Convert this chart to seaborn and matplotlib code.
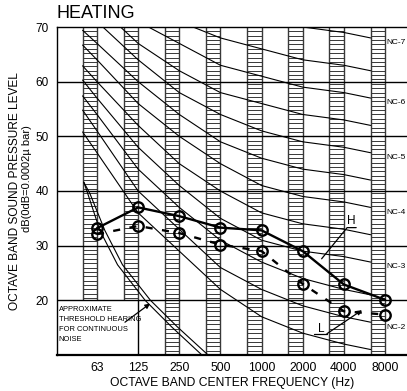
import numpy as np
import pandas as pd
import matplotlib
matplotlib.use("Agg")
import matplotlib.pyplot as plt
import seaborn as sns

sns.set_style("white")
plt.rcParams['font.family'] = ['Liberation Sans', 'DejaVu Sans']
plt.rcParams['text.color'] = 'black'
plt.rcParams['axes.labelcolor'] = 'black'
plt.rcParams['xtick.color'] = 'black'
plt.rcParams['ytick.color'] = 'black'

# ---------------- data ----------------
freq_labels = ["63", "125", "250", "500", "1000", "2000", "4000", "8000"]
h_levels = [33.2, 37.0, 35.4, 33.3, 32.8, 29.0, 22.9, 20.1]
l_levels = [32.1, 33.6, 32.3, 30.2, 29.0, 23.0, 18.0, 17.4]

nc_names = ["NC-15", "NC-20", "NC-25", "NC-30", "NC-35", "NC-40",
            "NC-45", "NC-50", "NC-55", "NC-60", "NC-65", "NC-70"]
# level at left edge of 63 Hz band, then 63 ... 8000 Hz
nc_start = [50.8, 54.8, 57.4, 60.3, 62.9, 66.7, 69.4, 73.4, 76.4, 79.1, 81.7, 84.4]
nc_levels = [
    [47, 36, 29, 22, 17, 14, 12, 11],
    [51, 40, 33, 26, 22, 19, 17, 16],
    [54, 44, 37, 31, 27, 24, 22, 21],
    [57, 48, 41, 35, 31, 29, 28, 27],
    [60, 52, 45, 40, 36, 34, 33, 32],
    [64, 56, 50, 45, 41, 39, 38, 37],
    [67, 60, 54, 49, 46, 44, 43, 42],
    [71, 64, 58, 54, 51, 49, 48, 47],
    [74, 67, 62, 58, 56, 54, 53, 52],
    [77, 71, 67, 63, 61, 59, 58, 57],
    [80, 75, 71, 68, 66, 64, 63, 62],
    [83, 79, 75, 72, 71, 70, 69, 68],
]
nc_labels = ["NC-2", "NC-3", "NC-4", "NC-5", "NC-6", "NC-7"]
nc_label_curves = ["NC-20", "NC-30", "NC-40", "NC-50", "NC-60", "NC-70"]

# threshold of hearing (double line)
thr1_x = [-0.32, -0.25, 0.07, 0.50, 1.17, 1.82, 2.55]
thr1_y = [41.6, 40.1, 32.8, 26.5, 20.0, 15.1, 10.0]
thr2_x = [-0.32, -0.17, 0.19, 0.62, 1.30, 1.96, 2.70]
thr2_y = [41.6, 39.5, 32.8, 26.5, 20.0, 15.1, 10.0]

yticks = [20, 30, 40, 50, 60, 70]

# ---------------- figure ----------------
W, H = 407, 391
fig = plt.figure(figsize=(W / 100, H / 100), dpi=100)
ax = fig.add_axes([57 / W, (H - 355) / H, (W - 57) / W, (355 - 27) / H])

xpos = np.arange(len(freq_labels))
colw = 0.35
ax.set_xlim(-0.972, 7.535)
ax.set_ylim(10, 70)

# hatched columns
hatch_c = "#383838"
for i in xpos:
    ybot = 20 if i < 2 else 10
    ax.vlines([i - colw, i], ybot, 70, color=hatch_c, lw=1.0, zorder=1)
    hy = np.arange(70, ybot, -0.8)
    ax.hlines(hy, i - colw, i, color=hatch_c, lw=0.7, zorder=1)

# horizontal grid
ax.hlines([20, 30, 40, 50, 60], -0.972, 7.535, color="black", lw=1.0, zorder=2)
# threshold box edge
ax.vlines([1], 10, 20, color="black", lw=1.0, zorder=2)

# NC curves (the 8000 Hz point sits at the left edge of its band column)
rows = []
for name, s, lv in zip(nc_names, nc_start, nc_levels):
    rows.append((name, -colw, s))
    for x, v in zip(xpos, lv):
        rows.append((name, x if x < 7 else x - colw, v))
nc_df = pd.DataFrame(rows, columns=["curve", "x", "level"])
sns.lineplot(data=nc_df, x="x", y="level", units="curve", estimator=None,
             color="black", lw=0.8, sort=False, ax=ax, zorder=3)

for lab, cname in zip(nc_labels, nc_label_curves):
    end = nc_levels[nc_names.index(cname)][-1]
    ax.text(7.04, end - 0.9, lab, fontsize=6.0, va="center", ha="left")

# threshold lines
ax.plot(thr1_x, thr1_y, color="black", lw=0.8, zorder=3)
ax.plot(thr2_x, thr2_y, color="black", lw=0.8, zorder=3)

# H and L data
hl_df = pd.DataFrame({"x": np.concatenate([xpos, xpos]),
                      "level": h_levels + l_levels,
                      "series": ["H"] * 8 + ["L"] * 8})
sns.lineplot(data=hl_df[hl_df.series == "H"], x="x", y="level", color="black",
             lw=1.7, marker="o", markersize=7.5, markerfacecolor="none",
             markeredgecolor="black", markeredgewidth=1.7, ax=ax, zorder=5)
sns.lineplot(data=hl_df[hl_df.series == "L"], x="x", y="level", color="black",
             lw=1.7, marker="o", markersize=7.5, markerfacecolor="none",
             markeredgecolor="black", markeredgewidth=1.7, ax=ax, zorder=5,
             linestyle=(0, (3, 4)))

# annotations H / L
ax.text(6.19, 34.5, "H", fontsize=8.5, ha="center", va="center")
ax.plot([5.46, 6.08, 6.30], [27.6, 33.3, 33.3], color="black", lw=0.9)
ax.text(5.46, 14.8, "L", fontsize=8.5, ha="center", va="center")
ax.plot([5.27, 5.59], [13.9, 13.9], color="black", lw=0.9)
ax.annotate("", xy=(6.44, 18.2), xytext=(5.59, 13.9),
            arrowprops=dict(arrowstyle="-|>", color="black", lw=0.9,
                            mutation_scale=7, shrinkA=0, shrinkB=0))

# threshold text
ax.text(-0.93, 19.0, "APPROXIMATE\nTHRESHOLD HEARING\nFOR CONTINUOUS\nNOISE",
        fontsize=5.4, ha="left", va="top", linespacing=1.6)
ax.annotate("", xy=(1.29, 19.4), xytext=(0.68, 16.0),
            arrowprops=dict(arrowstyle="-|>", color="black", lw=0.9,
                            mutation_scale=7, shrinkA=0, shrinkB=0))

# axes styling
ax.set_xticks(xpos)
ax.set_xticklabels(freq_labels, fontsize=8.7)
ax.set_yticks(yticks)
ax.set_yticklabels([str(t) for t in yticks], fontsize=8.5)
ax.tick_params(axis="x", length=0, pad=5)
ax.tick_params(axis="y", length=2, pad=4, width=0.8)
ax.set_xlabel("OCTAVE BAND CENTER FREQUENCY (Hz)", fontsize=8.7, labelpad=2)
ax.set_ylabel("")
for side in ["left", "top", "bottom"]:
    ax.spines[side].set_visible(True)
    ax.spines[side].set_color("black")
    ax.spines[side].set_linewidth(1.0)
ax.spines["bottom"].set_linewidth(1.6)
ax.spines["right"].set_visible(False)

fig.text(15 / W, 1 - 191 / H, "OCTAVE BAND SOUND PRESSURE LEVEL", rotation=90,
         fontsize=8.6, ha="center", va="center")
fig.text(27 / W, 1 - 179 / H, "dB(0dB=0.0002\u00b5 bar)", rotation=90,
         fontsize=8.0, ha="center", va="center")
fig.text(57 / W, 1 - 13 / H, "HEATING", fontsize=13, ha="left", va="center")

fig.savefig("out.png", dpi=100)
